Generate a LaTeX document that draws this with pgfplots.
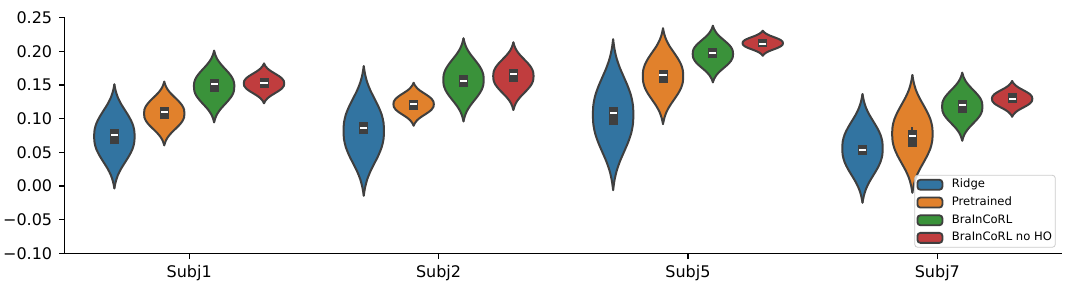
\documentclass[border=0pt]{standalone}
\usepackage{pgfplots}
\pgfplotsset{compat=1.18}
\usepackage{pgfplotstable}
\usepgfplotslibrary{fillbetween}
\usepackage{fontspec}
\setmainfont{DejaVu Sans}
\definecolor{cRidge}{HTML}{3274A1}
\definecolor{cPre}{HTML}{E1812C}
\definecolor{cBra}{HTML}{3A923A}
\definecolor{cNoHO}{HTML}{C03D3E}
\definecolor{edgec}{HTML}{3F3F3F}
% violin outlines: w = half-width, v1..v16 = y positions (Subj1 R,P,B,N; Subj2 ...; Subj5 ...; Subj7 ...)
\pgfplotstableread{
w v1 v2 v3 v4 v5 v6 v7 v8 v9 v10 v11 v12 v13 v14 v15 v16
0 -0.0035 0.0604 0.0946 0.1228 -0.0144 0.0896 0.0960 0.1129 -0.0060 0.0920 0.1540 0.1935 -0.0248 -0.0100 0.0673 0.1029
0.0053 0.0062 0.0663 0.1013 0.1265 -0.0024 0.0936 0.1037 0.1192 0.0080 0.1009 0.1593 0.1958 -0.0147 0.0009 0.0736 0.1062
0.0138 0.0158 0.0722 0.1079 0.1302 0.0097 0.0976 0.1114 0.1255 0.0220 0.1098 0.1645 0.1982 -0.0046 0.0119 0.0799 0.1095
0.0267 0.0255 0.0781 0.1146 0.1339 0.0217 0.1016 0.1191 0.1317 0.0360 0.1187 0.1698 0.2005 0.0055 0.0228 0.0862 0.1129
0.0429 0.0351 0.0841 0.1212 0.1376 0.0337 0.1056 0.1269 0.1380 0.0500 0.1276 0.1751 0.2028 0.0156 0.0337 0.0926 0.1162
0.0591 0.0448 0.0900 0.1279 0.1413 0.0457 0.1095 0.1346 0.1443 0.0640 0.1364 0.1803 0.2051 0.0256 0.0447 0.0989 0.1195
0.0721 0.0544 0.0959 0.1345 0.1450 0.0578 0.1135 0.1423 0.1506 0.0780 0.1453 0.1856 0.2075 0.0357 0.0556 0.1052 0.1228
0.0794 0.0641 0.1018 0.1412 0.1487 0.0698 0.1175 0.1500 0.1569 0.0920 0.1542 0.1908 0.2098 0.0458 0.0665 0.1115 0.1261
0.0810 0.0738 0.1077 0.1478 0.1524 0.0818 0.1215 0.1577 0.1632 0.1060 0.1631 0.1961 0.2121 0.0559 0.0775 0.1178 0.1295
0.0794 0.0834 0.1136 0.1545 0.1561 0.0938 0.1255 0.1654 0.1694 0.1199 0.1720 0.2013 0.2144 0.0660 0.0884 0.1241 0.1328
0.0721 0.0931 0.1195 0.1611 0.1598 0.1059 0.1295 0.1731 0.1757 0.1339 0.1809 0.2066 0.2168 0.0761 0.0993 0.1304 0.1361
0.0591 0.1027 0.1254 0.1678 0.1635 0.1179 0.1335 0.1808 0.1820 0.1479 0.1898 0.2118 0.2191 0.0862 0.1102 0.1367 0.1394
0.0429 0.1124 0.1314 0.1744 0.1672 0.1299 0.1375 0.1886 0.1883 0.1619 0.1987 0.2171 0.2214 0.0963 0.1212 0.1430 0.1427
0.0267 0.1220 0.1373 0.1811 0.1709 0.1419 0.1414 0.1963 0.1946 0.1759 0.2075 0.2223 0.2237 0.1063 0.1321 0.1494 0.1460
0.0138 0.1317 0.1432 0.1877 0.1746 0.1540 0.1454 0.2040 0.2008 0.1899 0.2164 0.2276 0.2261 0.1164 0.1430 0.1557 0.1494
0.0053 0.1413 0.1491 0.1944 0.1783 0.1660 0.1494 0.2117 0.2071 0.2039 0.2253 0.2328 0.2284 0.1265 0.1540 0.1620 0.1527
0 0.1510 0.1550 0.2010 0.1820 0.1780 0.1534 0.2194 0.2134 0.2179 0.2342 0.2381 0.2307 0.1366 0.1649 0.1683 0.1560
}\shape
% medians
\pgfplotstableread{
c med
-0.3 0.0757
-0.1 0.1100
0.1 0.1510
0.3 0.1530
0.7 0.0866
0.9 0.1220
1.1 0.1564
1.3 0.1664
1.7 0.1089
1.9 0.1649
2.1 0.1970
2.3 0.2110
2.7 0.0534
2.9 0.0747
3.1 0.1196
3.3 0.1290
}\medians
\newcommand{\violin}[3]{%
\addplot[draw=none, smooth, forget plot, name path=R#2] table[x expr=#1+\thisrow{w}, y=#2]{\shape};
\addplot[draw=none, smooth, forget plot, name path=L#2] table[x expr=#1-\thisrow{w}, y=#2]{\shape};
\addplot[fill=#3, draw=none, forget plot] fill between[of=R#2 and L#2];
\addplot[edgec, line width=1pt, smooth, line cap=round, forget plot] table[x expr=#1+\thisrow{w}, y=#2]{\shape};
\addplot[edgec, line width=1pt, smooth, line cap=round, forget plot] table[x expr=#1-\thisrow{w}, y=#2]{\shape};
}
\begin{document}
\begin{tikzpicture}
\begin{axis}[
  name=ax,
  scale only axis,
  width=498.75pt, height=117.8pt,
  xmin=-0.5, xmax=3.5, ymin=-0.10, ymax=0.25,
  axis x line*=bottom, axis y line*=left,
  axis line style={-, line width=0.6pt},
  tick align=outside, major tick length=2.65pt,
  tick style={line width=0.6pt, black},
  xtick={0,1,2,3}, xticklabels={Subj1,Subj2,Subj5,Subj7},
  ytick={-0.10,-0.05,0,0.05,0.10,0.15,0.20,0.25},
  yticklabels={−0.10,−0.05,0.00,0.05,0.10,0.15,0.20,0.25},
  ticklabel style={font=\fontsize{8}{9.6}\selectfont},
  legend image code/.code={\draw[#1, line width=0.9pt, fill opacity=1, draw opacity=1] (0pt,-2.5pt) rectangle (12.5pt,2.5pt);},
  legend cell align=left,
  legend style={at={(rel axis cs:0.9937,0.0238)}, anchor=south east,
    font=\fontsize{5.8}{6.9}\selectfont, draw=black!20, rounded corners=1.5pt,
    fill=white, fill opacity=0.8, text opacity=1, inner xsep=0.9pt, inner ysep=1pt,
    row sep=1.4pt, nodes={inner sep=0.8pt},
    /tikz/every odd column/.append style={column sep=3.5pt}},
]
\violin{-0.3}{v1}{cRidge}
\violin{-0.1}{v2}{cPre}
\violin{0.1}{v3}{cBra}
\violin{0.3}{v4}{cNoHO}
\violin{0.7}{v5}{cRidge}
\violin{0.9}{v6}{cPre}
\violin{1.1}{v7}{cBra}
\violin{1.3}{v8}{cNoHO}
\violin{1.7}{v9}{cRidge}
\violin{1.9}{v10}{cPre}
\violin{2.1}{v11}{cBra}
\violin{2.3}{v12}{cNoHO}
\violin{2.7}{v13}{cRidge}
\violin{2.9}{v14}{cPre}
\violin{3.1}{v15}{cBra}
\violin{3.3}{v16}{cNoHO}
% inner boxes: Q1 to Q3
\pgfplotsset{ibox/.style={edgec, line width=4.5pt, forget plot}}
\addplot[ibox] coordinates {(-0.3,0.0619) (-0.3,0.0842)};
\addplot[ibox] coordinates {(-0.1,0.0990) (-0.1,0.1178)};
\addplot[ibox] coordinates {(0.1,0.1400) (0.1,0.1585)};
\addplot[ibox] coordinates {(0.3,0.1460) (0.3,0.1610)};
\addplot[ibox] coordinates {(0.7,0.0768) (0.7,0.0946)};
\addplot[ibox] coordinates {(0.9,0.1129) (0.9,0.1277)};
\addplot[ibox] coordinates {(1.1,0.1475) (1.1,0.1649)};
\addplot[ibox] coordinates {(1.3,0.1550) (1.3,0.1733)};
\addplot[ibox] coordinates {(1.7,0.0906) (1.7,0.1178)};
\addplot[ibox] coordinates {(1.9,0.1534) (1.9,0.1723)};
\addplot[ibox] coordinates {(2.1,0.1897) (2.1,0.2045)};
\addplot[ibox] coordinates {(2.3,0.2060) (2.3,0.2179)};
\addplot[ibox] coordinates {(2.7,0.0460) (2.7,0.0604)};
\addplot[ibox] coordinates {(2.9,0.0584) (2.9,0.0832)};
\addplot[edgec, line width=1pt, forget plot] coordinates {(2.9,0.0832) (2.9,0.0872)};
\addplot[ibox] coordinates {(3.1,0.1080) (3.1,0.1277)};
\addplot[ibox] coordinates {(3.3,0.1228) (3.3,0.1377)};
\addplot[only marks, mark=-, mark size=1.8pt, mark options={white, line width=1pt}, forget plot] table[x=c, y=med] {\medians};
\addlegendimage{fill=cRidge, draw=edgec}
\addlegendentry{Ridge}
\addlegendimage{fill=cPre, draw=edgec}
\addlegendentry{Pretrained}
\addlegendimage{fill=cBra, draw=edgec}
\addlegendentry{BraInCoRL}
\addlegendimage{fill=cNoHO, draw=edgec}
\addlegendentry{BraInCoRL no HO}
\end{axis}
\pgfresetboundingbox
\path ([shift={(-32.25pt,-23.35pt)}]ax.south west) rectangle ([shift={(9pt,8.85pt)}]ax.north east);
\end{tikzpicture}
\end{document}
